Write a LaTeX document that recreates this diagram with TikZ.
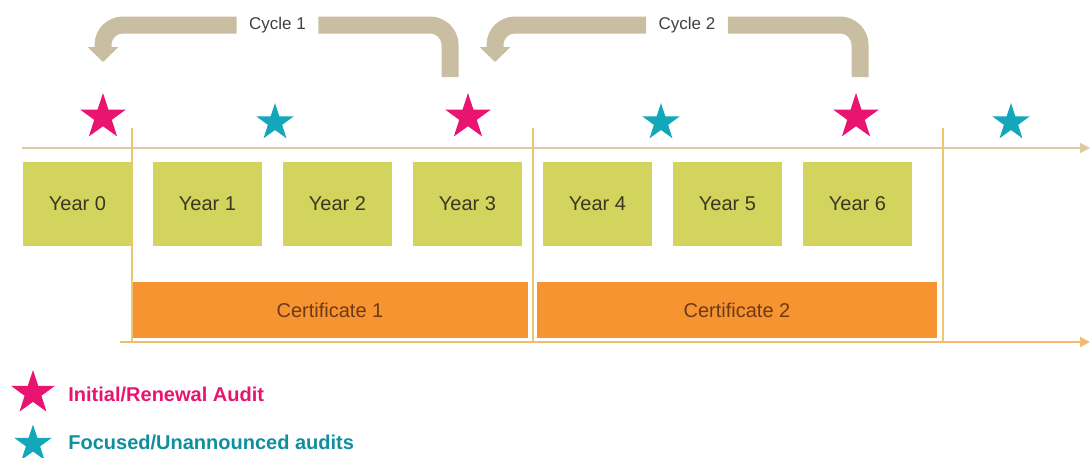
\documentclass[tikz,border=0pt]{standalone}
\usepackage{fontspec}
\setmainfont{Liberation Sans}
\usetikzlibrary{shapes.geometric,arrows.meta}

\definecolor{rose}{RGB}{233,20,112}
\definecolor{turquoise}{RGB}{18,168,186}
\definecolor{sable}{RGB}{201,190,162}
\definecolor{olive}{RGB}{210,212,94}
\definecolor{orangecert}{RGB}{247,148,50}
\definecolor{texteannee}{RGB}{58,56,32}
\definecolor{textecertif}{RGB}{110,58,22}
\definecolor{trait}{RGB}{220,202,160}
\definecolor{traitor}{RGB}{244,186,110}
\definecolor{sep}{RGB}{236,198,112}

\tikzset{
  annee/.style={fill=olive, minimum width=54.5pt, minimum height=42pt, inner sep=0pt,
    text=texteannee, font=\fontsize{10}{12}\selectfont},
  certif/.style={fill=orangecert, minimum height=28pt, inner sep=0pt,
    text=textecertif, font=\fontsize{10}{12}\selectfont},
  etoileR/.style={star, star points=5, star point ratio=2.6, fill=rose, draw=none,
    minimum size=24pt, inner sep=0pt},
  etoileT/.style={star, star points=5, star point ratio=2.6, fill=turquoise, draw=none,
    minimum size=19.5pt, inner sep=0pt},
  bande/.style={draw=sable, line width=8.5pt, rounded corners=10pt},
  boucle/.style={bande, -{Triangle[width=15pt,length=7.5pt]}},
  etiq/.style={minimum width=40.5pt, inner sep=0pt,
    text=black!75, font=\fontsize{8.5}{10}\selectfont},
  legende/.style={anchor=west, inner sep=0pt, font=\bfseries\fontsize{10}{12}\selectfont},
}

\begin{document}
\begin{tikzpicture}[x=0.5pt, y=-0.5pt]
\useasboundingbox (0,0) rectangle (1090,457);

% Les cases des années (Year 0 à Year 6)
\foreach \i in {0,...,6}
  \node[annee] (y\i) at (77.5+130*\i,204) {Year \i};

% Les deux certificats
\node[certif, minimum width=198pt] (c1) at (330,310) {Certificate 1};
\node[certif, minimum width=200pt] (c2) at (737,310) {Certificate 2};

% Les deux axes du temps
\coordinate (h0) at (22,148);
\coordinate (h1) at (1090,148);
\coordinate (b0) at (120,342);
\coordinate (b1) at (1090,342);
\draw[trait, line width=1pt, -{Triangle[width=5pt,length=5pt]}] (h0) -- (h1);
\draw[traitor, line width=1pt, -{Triangle[width=5pt,length=5pt]}] (b0) -- (b1);

% Les séparations verticales entre les certificats
\foreach \x/\n in {132/1,533/2,943/3} {
  \coordinate (s\n) at (\x,128);
  \coordinate (t\n) at (\x,342);
  \draw[sep, line width=1pt] (s\n) -- (t\n);
}

% Les audits : étoiles roses (initial / renouvellement) et turquoises
\node[etoileR] (a0) at (103,117) {};
\node[etoileR] (a3) at (468,117) {};
\node[etoileR] (a6) at (856,117) {};
\node[etoileT] (f1) at (275,122.5) {};
\node[etoileT] (f2) at (661,122.5) {};
\node[etoileT] (f3) at (1011,122.5) {};

% Les cycles : la flèche part du haut de l'étoile et revient en arrière
\node[etiq] (l1) at (277.5,25) {Cycle 1};
\node[etiq] (l2) at (687,25) {Cycle 2};
\coordinate (d1) at (450,77);
\coordinate (d2) at (860,77);
\coordinate (e1) at (103,62);
\coordinate (e2) at (495,62);
\draw[bande] (d1) |- (l1.east);
\draw[boucle] (l1.west) -| (e1);
\draw[bande] (d2) |- (l2.east);
\draw[boucle] (l2.west) -| (e2);

% La légende
\node[etoileR, minimum size=23pt] (kR) at (33,393) {};
\node[legende, text=rose] (tR) at (68,394) {Initial/Renewal Audit};
\node[etoileT] (kT) at (33,444) {};
\node[legende, text=turquoise!85!black] (tT) at (68,442) {Focused/Unannounced audits};
\end{tikzpicture}
\end{document}
